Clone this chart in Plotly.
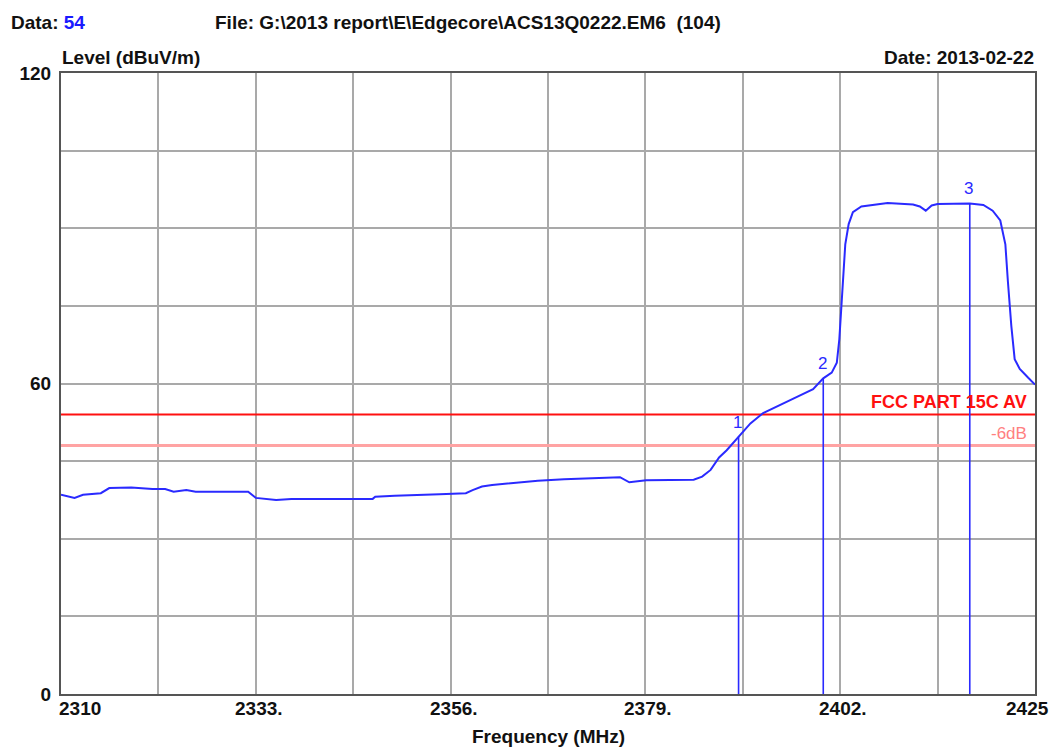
import plotly.graph_objects as go

# ---- data ----
freq_mhz = [2310.0, 2311.6, 2312.6, 2313.7, 2314.7, 2315.7, 2318.3, 2320.8, 2322.3, 2323.3,
            2324.8, 2325.9, 2332.1, 2333.0, 2335.4, 2337.2, 2346.8, 2347.1, 2349.4, 2354.7,
            2357.8, 2358.6, 2359.7, 2360.9, 2363.5, 2366.3, 2369.4, 2374.5, 2376.0, 2377.1,
            2379.1, 2384.7, 2385.7, 2386.7, 2387.7, 2388.6, 2389.8, 2390.0, 2391.4, 2392.9,
            2394.9, 2396.9, 2398.8, 2400.0, 2401.0, 2401.6, 2401.9, 2402.2, 2402.4, 2402.6,
            2403.0, 2403.5, 2404.5, 2406.7, 2407.6, 2410.6, 2411.4, 2412.1, 2412.8, 2413.5,
            2417.3, 2418.9, 2420.0, 2420.9, 2421.5, 2421.8, 2422.2, 2422.6, 2423.2, 2424.2,
            2425.0]
level_dbuv = [38.5, 37.9, 38.5, 38.7, 38.8, 39.8, 39.9, 39.6, 39.6, 39.1,
              39.4, 39.1, 39.1, 37.9, 37.5, 37.7, 37.7, 38.1, 38.3, 38.6,
              38.8, 39.4, 40.1, 40.4, 40.8, 41.2, 41.5, 41.9, 41.9, 40.9,
              41.3, 41.4, 42.0, 43.3, 45.7, 47.1, 49.4, 49.7, 52.3, 54.3,
              55.8, 57.4, 58.9, 61.0, 62.1, 64.0, 68.6, 76.5, 83.0, 86.9,
              90.8, 93.1, 94.2, 94.7, 94.9, 94.6, 94.2, 93.4, 94.4, 94.7,
              94.8, 94.5, 93.4, 91.5, 86.9, 79.7, 71.2, 64.7, 62.8, 61.1,
              59.8]

marker_ids = ["1", "2", "3"]
marker_freq = [2390.0, 2400.0, 2417.3]
marker_level = [49.7, 61.0, 94.8]

limit_av = 54.0
limit_margin = 48.0
limit_av_text = "FCC PART 15C AV"
limit_margin_text = "-6dB"

x_range = [2310, 2425]
y_range = [0, 120]
x_grid_vals = [2310 + 11.5 * k for k in range(11)]
x_label_vals = [2310, 2333, 2356, 2379, 2402, 2425]
x_label_text = ["2310", "2333.", "2356.", "2379.", "2402.", "2425"]
y_grid_vals = [0, 15, 30, 45, 60, 75, 90, 105, 120]
y_grid_text = ["0", "", "", "", "60", "", "", "", "120"]

FONT = "Liberation Sans, Arial, sans-serif"
BLUE = "#2a2aff"

fig = go.Figure()

fig.add_trace(go.Scatter(x=[x_range[0], x_range[1]], y=[limit_margin, limit_margin], mode="lines",
                         line=dict(color="#ffa3a3", width=3), hoverinfo="skip", showlegend=False))
fig.add_trace(go.Scatter(x=[x_range[0], x_range[1]], y=[limit_av, limit_av], mode="lines",
                         line=dict(color="#ff1010", width=2), hoverinfo="skip", showlegend=False))

for f, lv in zip(marker_freq, marker_level):
    fig.add_trace(go.Scatter(x=[f, f], y=[0, lv], mode="lines",
                             line=dict(color=BLUE, width=1.6), showlegend=False, hoverinfo="skip"))

fig.add_trace(go.Scatter(x=freq_mhz, y=level_dbuv, mode="lines",
                         line=dict(color=BLUE, width=2), showlegend=False))

annotations = []
for mid, f, lv in zip(marker_ids, marker_freq, marker_level):
    annotations.append(dict(x=f, y=lv, xref="x", yref="y", text=mid, showarrow=False,
                            xanchor="center", yanchor="bottom", yshift=3, xshift=-1,
                            font=dict(family=FONT, size=17, color=BLUE)))

annotations.append(dict(x=1, y=limit_av, xref="paper", yref="y", text="<b>" + limit_av_text + "</b>",
                        showarrow=False, xanchor="right", yanchor="bottom", xshift=-6, yshift=1,
                        font=dict(family=FONT, size=18, color="#ff1010")))
annotations.append(dict(x=1, y=limit_margin, xref="paper", yref="y", text=limit_margin_text,
                        showarrow=False, xanchor="right", yanchor="bottom", xshift=-6, yshift=1,
                        font=dict(family=FONT, size=17, color="#ff8080")))

# x tick labels (end labels sit inside the plot edges as in the reference)
for v, t in zip(x_label_vals, x_label_text):
    if v == x_range[0]:
        anchor, shift = "left", -4
    elif v == x_range[1]:
        anchor, shift = "right", 16
    else:
        anchor, shift = "center", 3
    annotations.append(dict(x=v, y=0, xref="x", yref="paper", text="<b>" + t + "</b>",
                            showarrow=False, xanchor=anchor, yanchor="top", xshift=shift, yshift=-2,
                            font=dict(family=FONT, size=19, color="#111111")))

# header / axis titles
def px_x(px):
    return (px - 61) / 974.0

def px_y(py):
    return (694 - py) / 621.0

annotations += [
    dict(x=px_x(9), y=px_y(22), xref="paper", yref="paper", xanchor="left", yanchor="middle",
         text="<b>Data: <span style='color:#1a1aff'>54</span></b>", showarrow=False,
         font=dict(family=FONT, size=19, color="#111111")),
    dict(x=px_x(213), y=px_y(22), xref="paper", yref="paper", xanchor="left", yanchor="middle",
         text="<b>File: G:\\2013 report\\E\\Edgecore\\ACS13Q0222.EM6  (104)</b>", showarrow=False,
         font=dict(family=FONT, size=19, color="#111111")),
    dict(x=px_x(60), y=px_y(57), xref="paper", yref="paper", xanchor="left", yanchor="middle",
         text="<b>Level (dBuV/m)</b>", showarrow=False,
         font=dict(family=FONT, size=19, color="#111111")),
    dict(x=px_x(1036), y=px_y(57), xref="paper", yref="paper", xanchor="right", yanchor="middle",
         text="<b>Date: 2013-02-22</b>", showarrow=False,
         font=dict(family=FONT, size=19, color="#111111")),
    dict(x=px_x(548), y=px_y(736), xref="paper", yref="paper", xanchor="center", yanchor="middle",
         text="<b>Frequency (MHz)</b>", showarrow=False,
         font=dict(family=FONT, size=19, color="#111111")),
]

fig.update_layout(
    width=1052, height=747, autosize=False,
    margin=dict(l=61, r=17, t=73, b=53),
    paper_bgcolor="white", plot_bgcolor="white",
    showlegend=False,
    annotations=annotations,
    xaxis=dict(range=x_range, tickvals=x_grid_vals, showticklabels=False,
               showgrid=True, gridcolor="#a9a9a9", gridwidth=2, zeroline=False,
               showline=True, linecolor="#555555", linewidth=2, mirror=True, ticks=""),
    yaxis=dict(range=y_range, tickvals=y_grid_vals, ticktext=["<b>" + t + "</b>" if t else "" for t in y_grid_text],
               showgrid=True, gridcolor="#a9a9a9", gridwidth=2, zeroline=False,
               showline=True, linecolor="#555555", linewidth=2, mirror=True, ticks="",
               ticklabelstandoff=4,
               tickfont=dict(family=FONT, size=19, color="#111111")),
)

fig.write_html("out.html", config={"displayModeBar": False},
               post_script="document.body.style.margin='0px';document.body.style.overflow='hidden';")
